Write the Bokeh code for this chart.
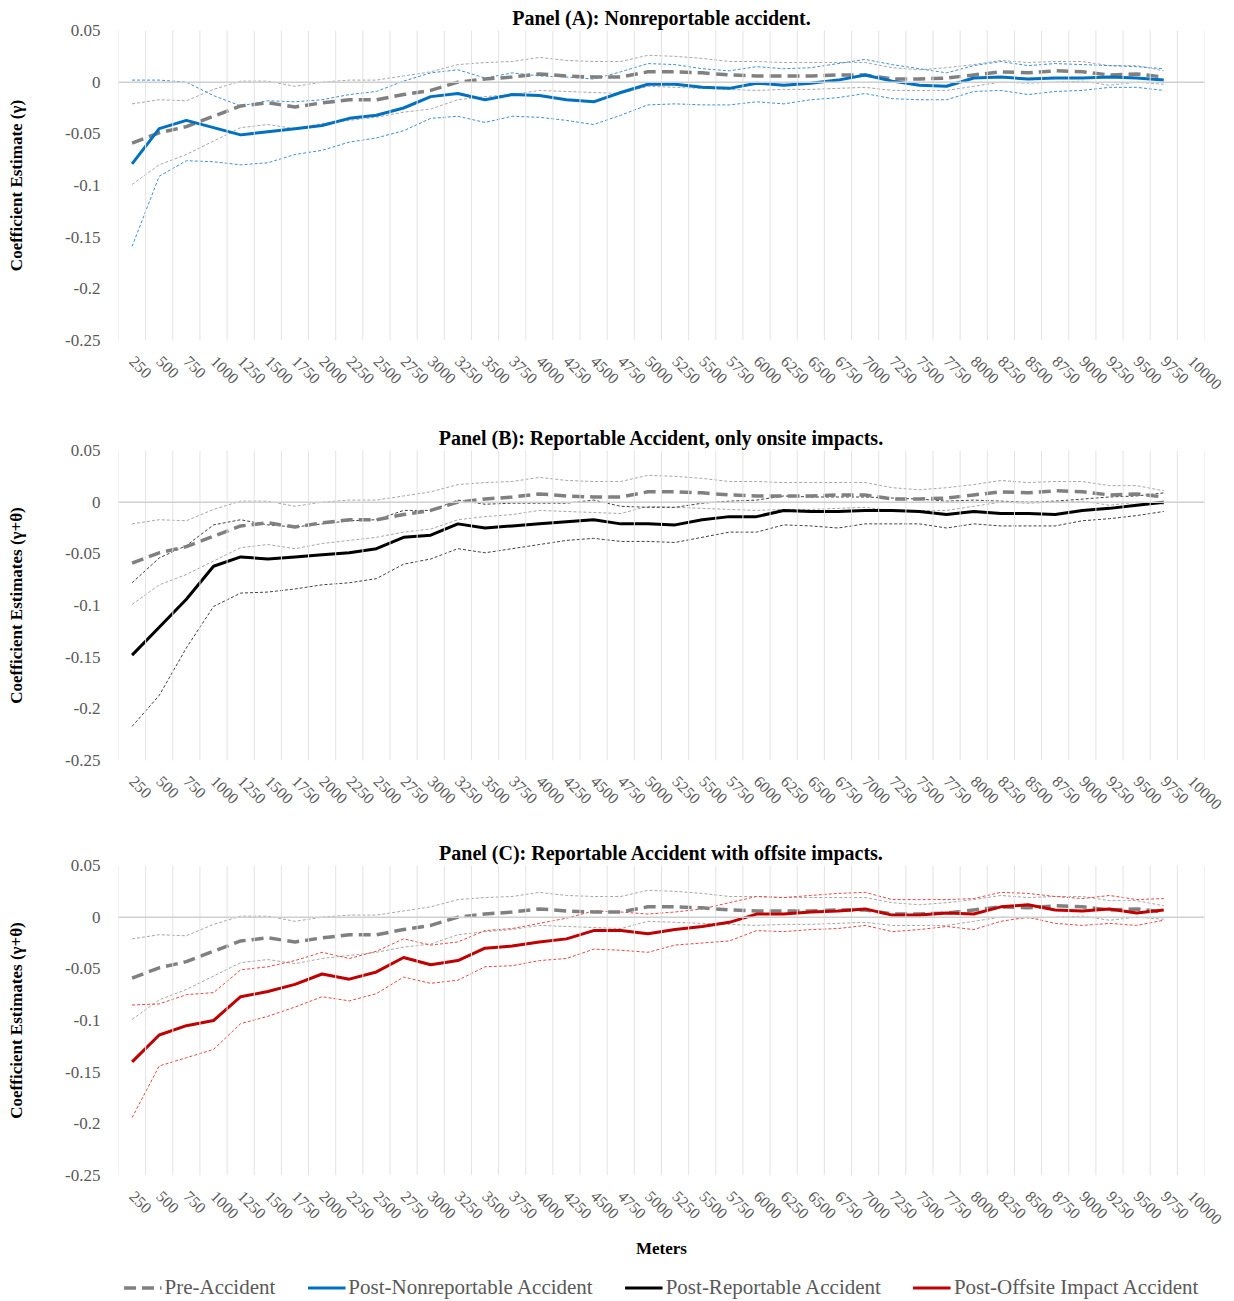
from bokeh.plotting import figure
from bokeh.models import (FactorRange, Range1d, FixedTicker, CustomJSTickFormatter,
                          Span, Legend, LegendItem)
from bokeh.layouts import column
from bokeh.embed import file_html
from bokeh.resources import INLINE
import math

meters = ["250", "500", "750", "1000", "1250", "1500", "1750", "2000", "2250", "2500",
          "2750", "3000", "3250", "3500", "3750", "4000", "4250", "4500", "4750", "5000",
          "5250", "5500", "5750", "6000", "6250", "6500", "6750", "7000", "7250", "7500",
          "7750", "8000", "8250", "8500", "8750", "9000", "9250", "9500", "9750", "10000"]

pre = [-0.059, -0.049, -0.043, -0.033, -0.023, -0.020, -0.024, -0.020, -0.017, -0.017,
       -0.012, -0.008, 0.000, 0.003, 0.005, 0.008, 0.006, 0.005, 0.005, 0.010,
       0.010, 0.009, 0.007, 0.006, 0.006, 0.006, 0.007, 0.007, 0.003, 0.003,
       0.004, 0.007, 0.010, 0.009, 0.011, 0.010, 0.007, 0.008, 0.005]
pre_hi = [-0.021, -0.017, -0.018, -0.007, 0.001, 0.001, -0.004, 0.000, 0.002, 0.002,
          0.006, 0.010, 0.017, 0.019, 0.020, 0.024, 0.021, 0.020, 0.020, 0.026,
          0.025, 0.023, 0.020, 0.020, 0.019, 0.019, 0.019, 0.019, 0.014, 0.012,
          0.014, 0.017, 0.021, 0.019, 0.020, 0.020, 0.016, 0.016, 0.011]
pre_lo = [-0.099, -0.080, -0.070, -0.057, -0.044, -0.041, -0.045, -0.040, -0.037, -0.034,
          -0.029, -0.026, -0.017, -0.014, -0.012, -0.008, -0.009, -0.010, -0.011, -0.004,
          -0.005, -0.006, -0.007, -0.008, -0.007, -0.007, -0.006, -0.005, -0.008, -0.008,
          -0.008, -0.004, 0.000, -0.001, 0.000, 0.001, -0.003, 0.000, -0.002]

nonrep = [-0.079, -0.045, -0.037, -0.044, -0.051, -0.048, -0.045, -0.042, -0.035, -0.032,
          -0.025, -0.014, -0.011, -0.017, -0.012, -0.013, -0.017, -0.019, -0.010, -0.002,
          -0.002, -0.005, -0.006, -0.001, -0.003, -0.001, 0.002, 0.007, 0.001, -0.003,
          -0.004, 0.004, 0.005, 0.003, 0.004, 0.004, 0.005, 0.004, 0.002]
nonrep_hi = [0.002, 0.002, 0.000, -0.013, -0.023, -0.018, -0.019, -0.017, -0.012, -0.009,
             0.001, 0.009, 0.012, 0.004, 0.009, 0.006, 0.005, 0.003, 0.010, 0.018,
             0.017, 0.013, 0.011, 0.015, 0.013, 0.014, 0.018, 0.022, 0.017, 0.013,
             0.009, 0.016, 0.020, 0.016, 0.018, 0.017, 0.016, 0.015, 0.013]
nonrep_lo = [-0.159, -0.091, -0.076, -0.077, -0.080, -0.078, -0.070, -0.066, -0.058, -0.054,
             -0.047, -0.035, -0.033, -0.039, -0.033, -0.034, -0.037, -0.041, -0.032, -0.022,
             -0.021, -0.022, -0.022, -0.019, -0.021, -0.017, -0.015, -0.011, -0.016, -0.017,
             -0.017, -0.009, -0.008, -0.012, -0.009, -0.008, -0.005, -0.005, -0.008]

rep = [-0.148, -0.121, -0.094, -0.062, -0.053, -0.055, -0.053, -0.051, -0.049, -0.045,
       -0.034, -0.032, -0.021, -0.025, -0.023, -0.021, -0.019, -0.017, -0.021, -0.021,
       -0.022, -0.017, -0.014, -0.014, -0.008, -0.009, -0.009, -0.008, -0.008, -0.009,
       -0.012, -0.009, -0.011, -0.011, -0.012, -0.008, -0.006, -0.003, 0.000]
rep_hi = [-0.078, -0.054, -0.042, -0.022, -0.017, -0.022, -0.024, -0.021, -0.018, -0.017,
          -0.008, -0.008, 0.002, -0.002, -0.001, -0.001, -0.001, 0.002, -0.004, -0.005,
          -0.005, -0.001, 0.001, 0.002, 0.006, 0.005, 0.005, 0.005, 0.004, 0.003,
          0.001, 0.002, 0.001, 0.000, 0.001, 0.003, 0.005, 0.006, 0.009]
rep_lo = [-0.217, -0.187, -0.141, -0.101, -0.088, -0.087, -0.084, -0.080, -0.078, -0.074,
          -0.060, -0.055, -0.045, -0.049, -0.045, -0.041, -0.037, -0.035, -0.038, -0.038,
          -0.039, -0.034, -0.029, -0.029, -0.022, -0.023, -0.025, -0.021, -0.021, -0.021,
          -0.025, -0.021, -0.023, -0.023, -0.023, -0.018, -0.016, -0.013, -0.009]

offs = [-0.140, -0.114, -0.105, -0.100, -0.077, -0.072, -0.065, -0.055, -0.060, -0.053,
        -0.039, -0.046, -0.042, -0.030, -0.028, -0.024, -0.021, -0.013, -0.013, -0.016,
        -0.012, -0.009, -0.005, 0.003, 0.003, 0.005, 0.006, 0.008, 0.002, 0.002,
        0.004, 0.003, 0.010, 0.012, 0.007, 0.006, 0.008, 0.004, 0.007]
offs_hi = [-0.085, -0.084, -0.075, -0.073, -0.051, -0.048, -0.042, -0.034, -0.040, -0.033,
           -0.021, -0.027, -0.024, -0.013, -0.011, -0.006, -0.001, 0.006, 0.005, 0.003,
           0.005, 0.008, 0.014, 0.020, 0.019, 0.021, 0.023, 0.024, 0.017, 0.017,
           0.017, 0.018, 0.024, 0.023, 0.020, 0.018, 0.021, 0.017, 0.018]
offs_lo = [-0.194, -0.144, -0.136, -0.128, -0.103, -0.096, -0.087, -0.077, -0.081, -0.074,
           -0.058, -0.064, -0.061, -0.048, -0.047, -0.042, -0.040, -0.031, -0.032, -0.034,
           -0.027, -0.025, -0.023, -0.013, -0.014, -0.012, -0.011, -0.008, -0.014, -0.012,
           -0.009, -0.012, -0.004, 0.000, -0.006, -0.008, -0.006, -0.008, -0.003]

y_ticks = [-0.25, -0.2, -0.15, -0.1, -0.05, 0, 0.05]

titles = ["Panel (A): Nonreportable accident.",
          "Panel (B): Reportable Accident, only onsite impacts.",
          "Panel (C): Reportable Accident with offsite impacts."]
ylabels = ["Coefficient Estimate (\u03b3)",
           "Coefficient Estimates (\u03b3+\u03b8)",
           "Coefficient Estimates (\u03b3+\u03b8)"]
legend_labels = ["Pre-Accident", "Post-Nonreportable Accident",
                 "Post-Reportable Accident", "Post-Offsite Impact Accident"]

SERIF = "Liberation Serif"
GREY_TXT = "#595959"
PRE_C = "#808080"
PRE_CI = "#a6a6a6"
PRE_DASH = "12 6"

series = [
    (nonrep, nonrep_hi, nonrep_lo, "#0070c0", "#3d8fd6"),
    (rep, rep_hi, rep_lo, "#000000", "#404040"),
    (offs, offs_hi, offs_lo, "#c00000", "#e04848"),
]

W = 1234
heights = [420, 415, 438]
bottoms = [80, 75, 98]

x_pts = meters[:len(pre)]
figs = []
for k in range(3):
    p = figure(width=W, height=heights[k], x_range=FactorRange(*meters, range_padding=0),
               y_range=Range1d(-0.25, 0.05), output_backend="svg", toolbar_location=None,
               min_border_left=118, min_border_right=30, min_border_top=30,
               min_border_bottom=bottoms[k])
    p.outline_line_color = None
    p.background_fill_color = "white"
    p.xgrid.visible = False
    p.ygrid.visible = False

    p.title.text = titles[k]
    p.title.align = "center"
    p.title.text_font = SERIF
    p.title.text_font_size = "20px"
    p.title.text_font_style = "bold"
    p.title.text_color = "black"
    p.title.standoff = 4

    # vertical category-boundary gridlines
    for b in range(len(meters) + 1):
        p.add_layout(Span(location=b, dimension="height", line_color="#e3e3e3", line_width=1))
    p.add_layout(Span(location=0, dimension="width", line_color="#d0d0d0", line_width=1.5))

    ya = p.yaxis[0]
    ya.ticker = FixedTicker(ticks=y_ticks)
    ya.formatter = CustomJSTickFormatter(code="""
        var s = tick.toFixed(2);
        s = s.replace(/0+$/, '').replace(/\\.$/, '');
        if (s === '-0') s = '0';
        return s;
    """)
    ya.axis_line_color = None
    ya.major_tick_line_color = None
    ya.minor_tick_line_color = None
    ya.major_label_text_font = SERIF
    ya.major_label_text_font_size = "17px"
    ya.major_label_text_color = GREY_TXT
    ya.major_label_standoff = 12
    ya.axis_label = ylabels[k]
    ya.axis_label_text_font = SERIF
    ya.axis_label_text_font_size = "17px"
    ya.axis_label_text_font_style = "bold"
    ya.axis_label_text_color = "black"
    ya.axis_label_standoff = 36

    xa = p.xaxis[0]
    xa.axis_line_color = None
    xa.major_tick_line_color = None
    xa.minor_tick_line_color = None
    xa.major_label_orientation = -math.pi / 4
    xa.major_label_text_font = SERIF
    xa.major_label_text_font_size = "16px"
    xa.major_label_text_color = GREY_TXT
    xa.major_label_standoff = 12
    if k == 2:
        xa.axis_label = "Meters"
        xa.axis_label_text_font = SERIF
        xa.axis_label_text_font_size = "17px"
        xa.axis_label_text_font_style = "bold"
        xa.axis_label_text_color = "black"
        xa.axis_label_standoff = 6

    p.line(x_pts, pre_hi, line_color=PRE_CI, line_width=1, line_dash="3 2")
    p.line(x_pts, pre_lo, line_color=PRE_CI, line_width=1, line_dash="3 2")
    main, hi, lo, col, cicol = series[k]
    p.line(x_pts, hi, line_color=cicol, line_width=1, line_dash="3 2")
    p.line(x_pts, lo, line_color=cicol, line_width=1, line_dash="3 2")
    p.line(x_pts, pre, line_color=PRE_C, line_width=3.5, line_dash=PRE_DASH)
    p.line(x_pts, main, line_color=col, line_width=3)
    figs.append(p)

# legend strip: its own small figure; the key lines sit outside its visible y range
lg = figure(width=W, height=28, output_backend="svg", toolbar_location=None,
            min_border=0, x_axis_type=None, y_axis_type=None,
            x_range=FactorRange(*meters, range_padding=0), y_range=Range1d(1, 2))
lg.outline_line_color = None
lg.xgrid.visible = False
lg.ygrid.visible = False
lr = [lg.line(x_pts, pre, line_color=PRE_C, line_width=3.5, line_dash=PRE_DASH)]
for s in series:
    lr.append(lg.line(x_pts, s[0], line_color=s[3], line_width=3))
legend = Legend(items=[LegendItem(label=legend_labels[i], renderers=[lr[i]]) for i in range(4)],
                orientation="horizontal", location="center")
legend.border_line_color = None
legend.background_fill_alpha = 0
legend.label_text_font = SERIF
legend.label_text_font_size = "21px"
legend.label_text_color = GREY_TXT
legend.glyph_width = 38
legend.glyph_height = 20
legend.label_standoff = 3
legend.spacing = 32
legend.padding = 0
legend.margin = 0
lg.add_layout(legend, "center")
figs.append(lg)

layout = column(*figs, spacing=0)
open("out.html", "w").write(file_html(layout, INLINE))
